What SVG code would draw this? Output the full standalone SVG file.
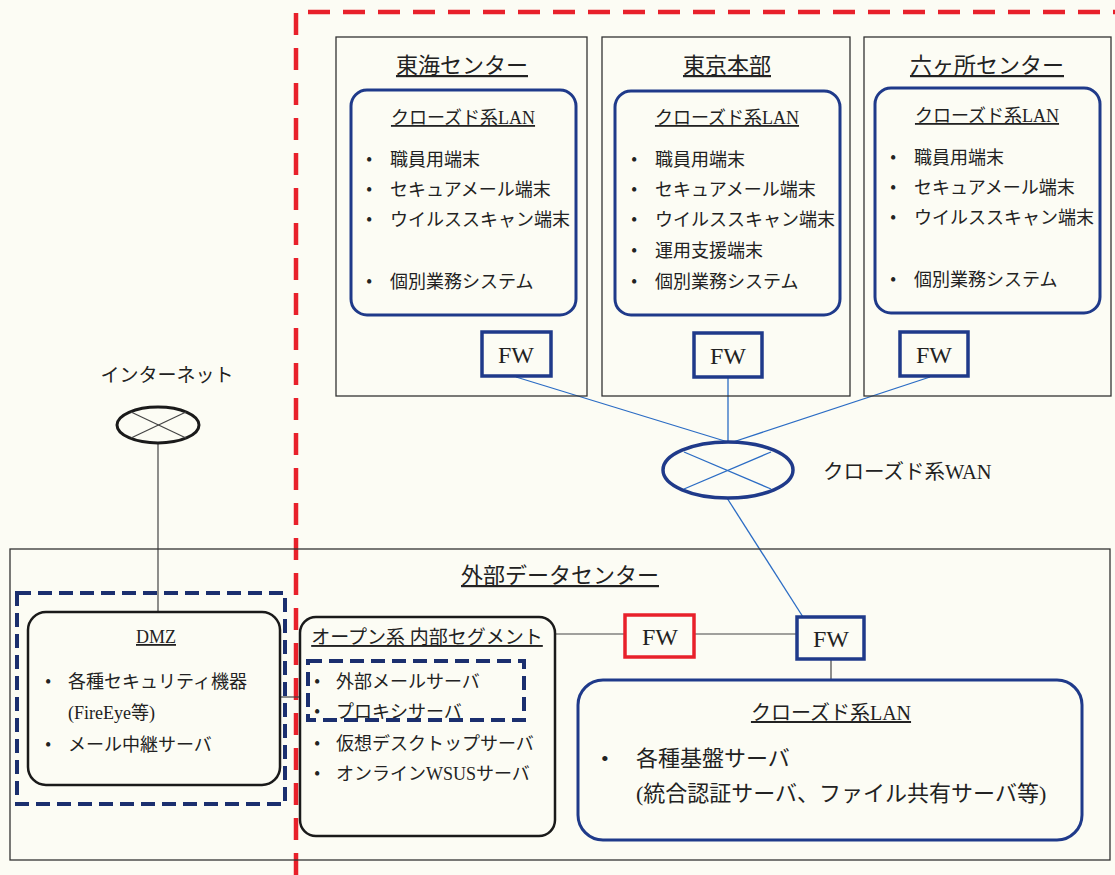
<svg xmlns="http://www.w3.org/2000/svg" width="1115" height="875" viewBox="0 0 1115 875">
<style>
text{font-family:"Liberation Serif","Noto Sans CJK JP",serif;fill:#222}
.site{fill:none;stroke:#333;stroke-width:1.3}
.lan{fill:none;stroke:#1f3a8a;stroke-width:3}
.blk{fill:none;stroke:#1a1a1a;stroke-width:2.5}
.fwb{fill:#fcfcf4;stroke:#1f3a8a;stroke-width:3.5}
.fwr{fill:#fcfcf4;stroke:#e8202a;stroke-width:3.5}
.nd{fill:none;stroke:#1b2f6e;stroke-width:4;stroke-dasharray:14 7}
.bl{stroke:#2b6cc4;stroke-width:1.3;fill:none}
.gl{stroke:#444;stroke-width:1.2;fill:none}
.t22{font-size:22px;text-anchor:middle;text-decoration:underline}
.t17{font-size:18px;text-anchor:middle;text-decoration:underline}
.it{font-size:18px}
.it2{font-size:18px}
.fw{font-size:24px;text-anchor:middle}
</style>
<rect width="1115" height="875" fill="#fcfcf4"/>

<g id="closed-zone">
<path d="M296,875 V12 H1115" fill="none" stroke="#e8202a" stroke-width="4.5" stroke-dasharray="22 13"/>
</g>

<g id="connectors">
<line class="bl" x1="516" y1="377" x2="728" y2="442"/>
<line class="bl" x1="728" y1="377" x2="728" y2="442"/>
<line class="bl" x1="930" y1="377" x2="733" y2="442"/>
<line class="bl" x1="727" y1="498" x2="803" y2="617"/>
<line class="gl" x1="158" y1="444" x2="158" y2="612"/>
<line class="gl" x1="280" y1="697" x2="300" y2="697"/>
<line class="gl" x1="555" y1="634" x2="625" y2="634"/>
<line class="gl" x1="694" y1="634" x2="797" y2="634"/>
<line class="gl" x1="831" y1="659" x2="831" y2="680"/>
</g>

<g id="tokai">
<rect class="site" x="336" y="37" width="251" height="359"/>
<text class="t22" x="462" y="73">東海センター</text>
<rect class="lan" x="351" y="90" width="225" height="225" rx="16"/>
<text class="t17" x="463" y="124">クローズド系LAN</text>
<g class="it">
<text x="366" y="166">•</text><text x="390" y="166">職員用端末</text>
<text x="366" y="196">•</text><text x="390" y="196">セキュアメール端末</text>
<text x="366" y="226">•</text><text x="390" y="226">ウイルススキャン端末</text>
<text x="366" y="288">•</text><text x="390" y="288">個別業務システム</text>
</g>
<rect class="fwb" x="482" y="332" width="69" height="44"/>
<text class="fw" x="516" y="363">FW</text>
</g>

<g id="tokyo">
<rect class="site" x="602" y="37" width="248" height="359"/>
<text class="t22" x="727" y="73">東京本部</text>
<rect class="lan" x="615" y="91" width="225" height="224" rx="16"/>
<text class="t17" x="727" y="124">クローズド系LAN</text>
<g class="it">
<text x="631" y="166">•</text><text x="655" y="166">職員用端末</text>
<text x="631" y="196">•</text><text x="655" y="196">セキュアメール端末</text>
<text x="631" y="226">•</text><text x="655" y="226">ウイルススキャン端末</text>
<text x="631" y="257">•</text><text x="655" y="257">運用支援端末</text>
<text x="631" y="288">•</text><text x="655" y="288">個別業務システム</text>
</g>
<rect class="fwb" x="694" y="333" width="68" height="44"/>
<text class="fw" x="728" y="364">FW</text>
</g>

<g id="rokkasho">
<rect class="site" x="864" y="37" width="247" height="359"/>
<text class="t22" x="987" y="73">六ヶ所センター</text>
<rect class="lan" x="875" y="88" width="225" height="225" rx="16"/>
<text class="t17" x="987" y="122">クローズド系LAN</text>
<g class="it">
<text x="890" y="164">•</text><text x="914" y="164">職員用端末</text>
<text x="890" y="194">•</text><text x="914" y="194">セキュアメール端末</text>
<text x="890" y="224">•</text><text x="914" y="224">ウイルススキャン端末</text>
<text x="890" y="286">•</text><text x="914" y="286">個別業務システム</text>
</g>
<rect class="fwb" x="900" y="332" width="68" height="44"/>
<text class="fw" x="934" y="363">FW</text>
</g>

<g id="wan">
<ellipse cx="728" cy="470" rx="65" ry="28" fill="#fcfcf4" stroke="#1f3a8a" stroke-width="3.5"/>
<line class="bl" x1="684" y1="452" x2="771" y2="489" stroke="#1f3a8a"/>
<line class="bl" x1="684" y1="489" x2="771" y2="452" stroke="#1f3a8a"/>
<text x="823" y="479" font-size="20.5">クローズド系WAN</text>
</g>

<g id="internet">
<text x="167" y="382" font-size="19" text-anchor="middle">インターネット</text>
<ellipse cx="158" cy="425" rx="41" ry="18" fill="#fcfcf4" stroke="#1a1a1a" stroke-width="3"/>
<line class="gl" x1="131" y1="412" x2="186" y2="438"/>
<line class="gl" x1="131" y1="438" x2="186" y2="412"/>
</g>

<g id="external-dc">
<rect class="site" x="10" y="549" width="1100" height="311"/>
<text class="t22" x="560" y="583">外部データセンター</text>
</g>

<g id="dmz">
<rect class="nd" x="17" y="593" width="268" height="211"/>
<rect class="blk" x="28" y="612" width="252" height="173" rx="18"/>
<text class="t17" x="156" y="643">DMZ</text>
<g class="it2">
<text x="45" y="688">•</text><text x="68" y="688">各種セキュリティ機器</text>
<text x="68" y="719">(FireEye等)</text>
<text x="45" y="751">•</text><text x="68" y="751">メール中継サーバ</text>
</g>
</g>

<g id="open-segment">
<rect class="blk" x="300" y="617" width="255" height="219" rx="16"/>
<text class="t17" x="427" y="644" style="font-size:19px">オープン系 内部セグメント</text>
<rect class="nd" x="308" y="661" width="216" height="59"/>
<g class="it2">
<text x="314" y="688">•</text><text x="336" y="688">外部メールサーバ</text>
<text x="314" y="718">•</text><text x="336" y="718">プロキシサーバ</text>
<text x="314" y="750">•</text><text x="336" y="750">仮想デスクトップサーバ</text>
<text x="314" y="780">•</text><text x="336" y="780">オンラインWSUSサーバ</text>
</g>
</g>

<g id="fw-red">
<rect class="fwr" x="625" y="615" width="69" height="42"/>
<text class="fw" x="660" y="645">FW</text>
</g>

<g id="fw-dc">
<rect class="fwb" x="797" y="617" width="67" height="42"/>
<text class="fw" x="831" y="647">FW</text>
</g>

<g id="dc-closed-lan">
<rect class="lan" x="578" y="680" width="504" height="160" rx="25"/>
<text class="t22" x="831" y="720" style="font-size:20px">クローズド系LAN</text>
<text x="601" y="766" font-size="22">•</text>
<text x="636" y="766" font-size="22">各種基盤サーバ</text>
<text x="636" y="801" font-size="22">(統合認証サーバ、ファイル共有サーバ等)</text>
</g>
</svg>
